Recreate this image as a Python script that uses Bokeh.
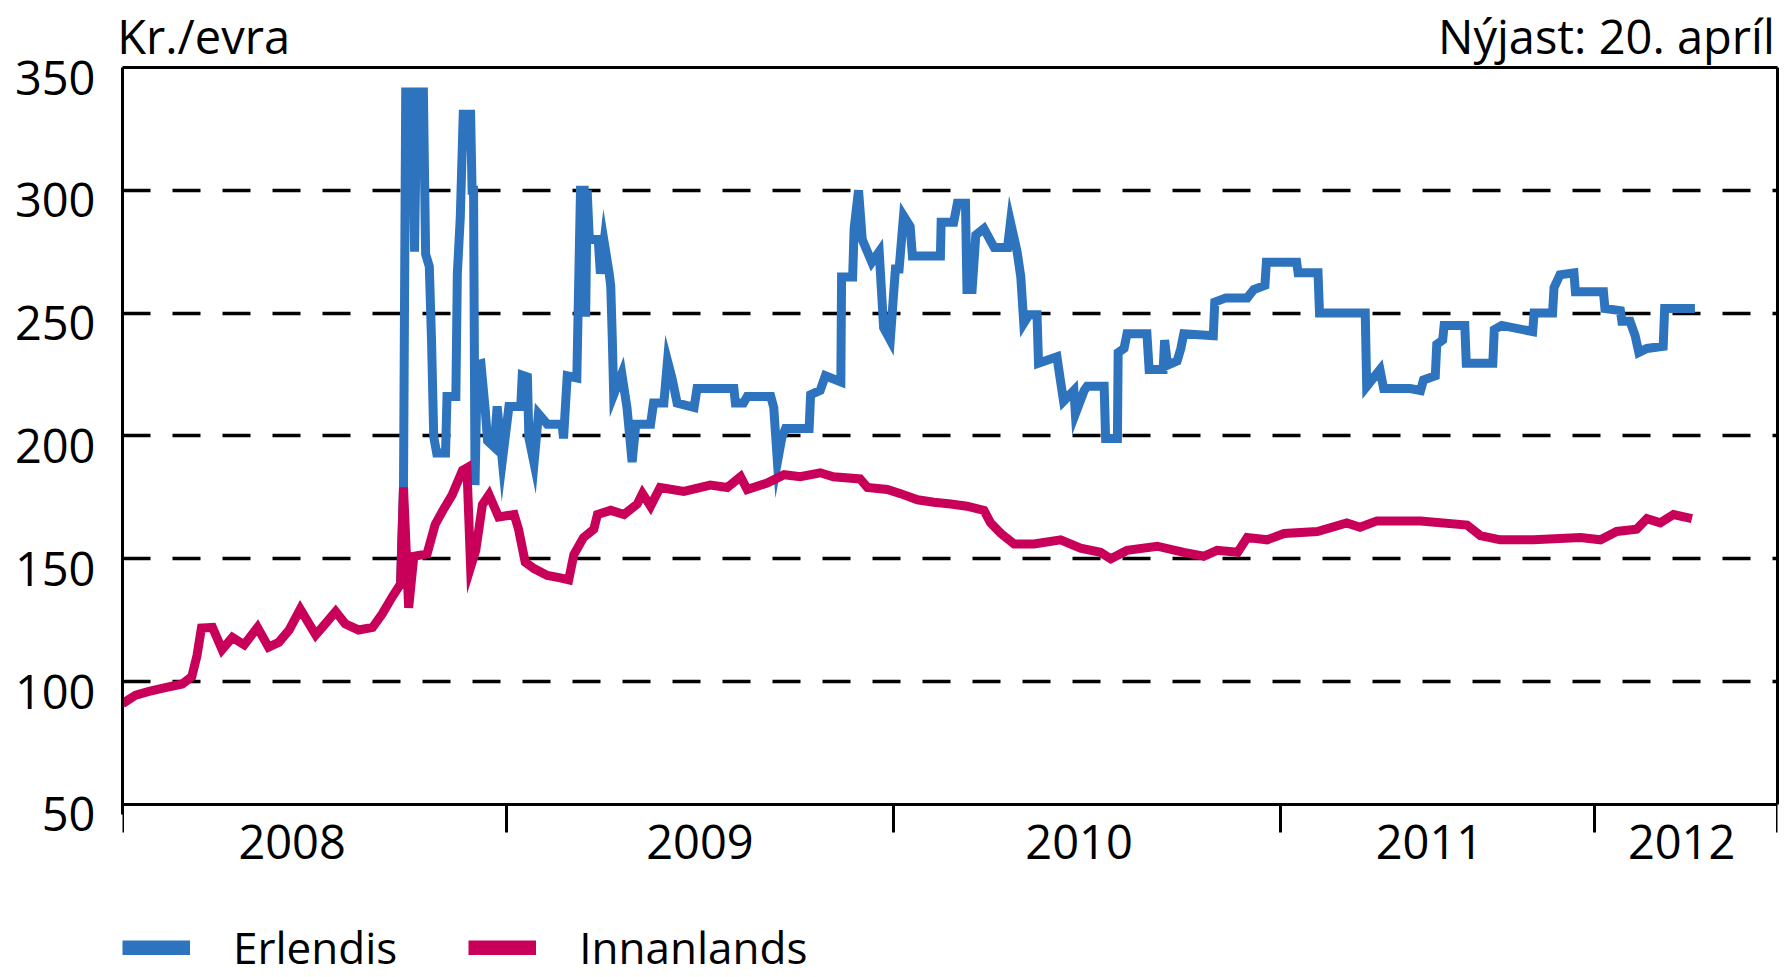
from bokeh.plotting import figure
from bokeh.models import Range1d, FixedTicker, Legend, LegendItem, LinearAxis
from bokeh.embed import file_html
from bokeh.resources import INLINE

FONT = "Open Sans"
BLUE = "#2E73BE"
RED = "#C8005A"
NAN = float("nan")

# x axis: observation index as laid out on the chart (weekly steps from start of 2008)
YEAR_STARTS = [0, 52, 104.5, 157, 199.6]
X_END = 224.4
YEAR_LABELS = ["2008", "2009", "2010", "2011", "2012"]
YEAR_LABEL_POS = [23, 78.3, 129.7, 177.2, 211.4]
Y_MIN, Y_MAX = 50, 350
Y_TICKS = [50, 100, 150, 200, 250, 300, 350]
GRID_TICKS = [100, 150, 200, 250, 300]
UNIT_TEXT = "Kr./evra"
LATEST_TEXT = "Nýjast: 20. apríl"
HEADER_POS = [11.0, 201.2]

# Innanlands (domestic), kr. per euro
inn_x = [0, 1.8, 3.6, 5.8, 8.1, 9.4, 10.1, 10.7, 12.2, 13.5, 14.9, 16.5, 18.3, 19.8, 21.2,
         22.6, 24.1, 26.2, 27.5, 28.9, 30.2, 32, 33.9, 35.2, 36.6, 37.7, 38.1, 38.8, 39.5,
         41.3, 42.4, 43.6, 44.7, 46.1, 46.7, 47.2, 47.9, 48.8, 49.7, 51, 53.1, 53.7, 54.6,
         55.8, 57.6, 59.2, 60.5, 61.2, 62.5, 63.9, 64.4, 66.2, 68, 69.8, 70.5, 71.6, 72.9,
         76.1, 79.7, 82, 83.8, 84.7, 87.4, 89.7, 91.9, 94.6, 96.4, 100, 101, 103.7, 105.5,
         107.8, 110, 112.3, 114.5, 116.8, 117.7, 119.1, 120.9, 123.6, 127.2, 129.9, 132.6,
         134, 136.2, 140.3, 143.9, 146.6, 148.4, 151.2, 152.5, 155.2, 157.5, 162, 166,
         167.8, 170.1, 176, 182.3, 184.1, 186.8, 191.3, 197.7, 200.4, 202.6, 205.3, 206.7,
         208.5, 210.3, 212.8]
inn_y = [91, 94.5, 96, 97.5, 99, 102, 110.6, 121.8, 122, 113, 118, 115, 122, 114, 116,
         121, 129.5, 119, 123.5, 128.5, 123.5, 121, 122, 127.5, 134.6, 139.7, 179, 130, 151,
         152, 164, 170.5, 176, 186, 187, 146.6, 153.4, 172, 176, 167, 168, 162, 148.6,
         146, 143.2, 142.3, 141.4, 151.7, 158.6, 162, 168, 169.7, 168, 172.3, 176.5, 171.4, 179,
         177.4, 180, 179, 183.4, 178.2, 180.8, 184.2, 183.4, 185, 183.4, 182.5, 179, 178.2, 176.5,
         174, 173, 172.3, 171.4, 169.7, 164.6, 160.3, 156, 156, 157.7, 154.3, 152.6,
         150, 153.4, 155.1, 152.6, 151, 153.4, 152.6, 158.6, 157.7, 160.3, 161.1, 164.6,
         162.8, 165.4, 165.4, 163.7, 159.4, 157.7, 157.7, 158.6, 157.7, 161.1, 162, 166.3,
         164.6, 168, 166.3]

# Erlendis (offshore), kr. per euro
erl_x = [37.7, 38.1, 38.4, 39.3, 39.6, 39.9, 40.8, 41.1, 41.6, 41.9, 42.2, 42.6, 43.8, 44,
         45.2, 45.4, 45.8, 46.2, 47.2, 47.4, 47.6, 47.8, 48.1, 48.6, 49.2, 49.5, 50.4, 50.8,
         51.5, 52.4, 54, 54.2, 54.9, 55.1, 55.8, 56.4, 57.6, 59.6, 59.8, 60.3, 61.6, 62.1,
         62.6, 62.8, 63, 63.3, 64.5, 64.8, 65.3, 66, 66.2, 66.4, 66.6, 67.7, 68.4, 69.1,
         69.6, 71.6, 72, 73.4, 73.9, 74.5, 75.2, 77.5, 77.9, 82.9, 83.1, 84.2, 84.7, 87.9,
         88.3, 88.8, 89.4, 89.9, 93.1, 93.3, 94.6, 95.3, 97.4, 97.5, 99, 99.2, 99.8, 100.3,
         101, 101.6, 102.6, 103.2, 104.1, 104.8, 105.3, 105.9, 106.8, 107.1, 110.9, 111,
         112.7, 113.2, 114.3, 114.5, 115.2, 115.7, 116.8, 118.2, 120, 120.4, 121.3, 121.8,
         122.2, 122.9, 124, 124.2, 126.7, 127.2, 127.6, 129, 129.2, 130.4, 130.8, 133.1,
         133.3, 134.9, 135, 135.8, 136.2, 138.9, 139.2, 141.1, 141.3, 141.7, 143, 143.5,
         143.9, 147.9, 148.1, 149.6, 152.5, 153.4, 154.9, 155.1, 159.2, 159.4, 162.1, 162.3,
         168.5, 168.7, 170.5, 171, 174.6, 176, 176.4, 178, 178.2, 179, 179.2, 182, 182.2,
         185.8, 186, 187, 191.2, 191.4, 193.9, 194.1, 194.9, 196.8, 197, 200.8, 201, 203.1,
         203.3, 204.4, 205.1, 205.6, 206.7, 208.9, 209.1, 213.2]
erl_y = [139.7, 179, 340, 340, 275, 340, 340, 274, 269, 239, 199.6, 193, 193, 216,
         216, 266, 289, 331, 331, 300, 300, 180, 229, 229.4, 210, 198, 195.5, 212,
         190, 212, 212, 224.7, 224, 199.3, 189, 209, 204.8, 204.8, 199, 224.5, 223.6, 300,
         300, 248.5, 300, 280, 280, 266, 279, 266, 261, 240.8, 216.8, 225.3, 211.6, 189.4,
         204.8, 204.8, 213.4, 213.4, 230.5, 223.6, 213.4, 211.6, 219.3, 219.3, 213.4, 213.4, 216, 216,
         211.6, 189.4, 199.3, 203, 203, 216.8, 218.5, 224.5, 222, 264.7, 264.7, 284.4, 300, 280,
         275, 270.7, 275, 244, 239, 268, 268, 289.6, 285.3, 273.3, 273.3, 287,
         287, 294.7, 294.7, 259.6, 259.6, 281.8, 284.4, 276.7, 276.7, 287, 275, 264.7,
         245.9, 249.3, 249.3, 229.6, 232.2, 222, 214.2, 218.5, 209, 218.5, 220.2, 220.2,
         199, 199, 233.9, 235.6, 241.6, 241.6, 227, 227, 239, 228.8, 230.5, 235.6,
         241.6, 240.8, 254.5, 256.2, 256.2, 259.6, 261.3, 270.7, 270.7, 266.4, 266.4, 250,
         250, 220.2, 227, 219.3, 219.3, 218.5, 222.8, 224.5, 237.3, 239, 245, 245, 229.6,
         229.6, 243.3, 245, 242.5, 250, 250, 260.4, 265.6, 266.4, 258.7, 258.7, 251.9, 251,
         246.7, 246.7, 240.8, 234, 235.6, 236.5, 251.9, 251.9]

SERIES_NAMES = ["Erlendis", "Innanlands"]

# The frame runs down to the page bottom so that axis labels and legend sit inside it;
# the value axis box (50-350) is drawn with axis lines.
Y_START = -20.5          # extra room under the 50 line for year labels and legend
LABEL_SHIFT = 4.08       # value-axis labels sit slightly below their grid lines

p = figure(width=1789, height=977, x_range=Range1d(0, X_END), y_range=Range1d(Y_START, Y_MAX),
           output_backend="svg", toolbar_location=None, title=None,
           min_border_left=122, min_border_right=12, min_border_top=67, min_border_bottom=0)
p.background_fill_color = "white"
p.border_fill_color = "white"
p.outline_line_color = None
p.extra_y_ranges = {"lab": Range1d(Y_START + LABEL_SHIFT, Y_MAX + LABEL_SHIFT)}

p.line(erl_x, erl_y, line_width=9, color=BLUE, line_join="miter")
p.line(inn_x, inn_y, line_width=9, color=RED, line_join="miter")

# x axis (years between boundary ticks), sitting on the 50 line
xa = p.xaxis[0]
xa.fixed_location = Y_MIN
xa.ticker = FixedTicker(ticks=YEAR_LABEL_POS, minor_ticks=YEAR_STARTS + [X_END])
xa.major_label_overrides = {pos: lab for pos, lab in zip(YEAR_LABEL_POS, YEAR_LABELS)}
xa.major_tick_out = 0
xa.major_tick_in = 0
xa.minor_tick_out = 28
xa.minor_tick_in = 0
xa.minor_tick_line_width = 3
xa.minor_tick_line_color = "black"
xa.axis_line_width = 3
xa.axis_line_color = "black"
xa.major_label_standoff = -7
xa.major_label_text_font = FONT
xa.major_label_text_font_size = "47px"
xa.major_label_text_color = "black"

# y axis (labels slightly below their lines, as in the original)
ya = p.yaxis[0]
ya.y_range_name = "lab"
ya.bounds = (Y_MIN, Y_MAX + LABEL_SHIFT)
ya.ticker = FixedTicker(ticks=Y_TICKS, minor_ticks=[])
ya.major_tick_out = 0
ya.major_tick_in = 0
ya.minor_tick_out = 0
ya.minor_tick_in = 0
ya.axis_line_width = 3
ya.axis_line_color = "black"
ya.major_label_standoff = 27
ya.major_label_text_font = FONT
ya.major_label_text_font_size = "47px"
ya.major_label_text_color = "black"

# right edge of the box
right = LinearAxis(ticker=FixedTicker(ticks=[], minor_ticks=[]), bounds=(Y_MIN, Y_MAX),
                   axis_line_width=3, axis_line_color="black",
                   major_tick_out=0, major_tick_in=0, minor_tick_out=0, minor_tick_in=0)
p.add_layout(right, "right")

p.xgrid.visible = False
p.ygrid.ticker = FixedTicker(ticks=GRID_TICKS)
p.ygrid.grid_line_color = "black"
p.ygrid.grid_line_width = 3.5
p.ygrid.grid_line_dash = "28 22"

# header texts (unit on the left, latest date on the right) on the top edge of the box
top = LinearAxis(ticker=FixedTicker(ticks=HEADER_POS, minor_ticks=[]),
                 major_label_overrides={HEADER_POS[0]: UNIT_TEXT, HEADER_POS[1]: LATEST_TEXT},
                 axis_line_width=3, axis_line_color="black",
                 major_tick_out=0, major_tick_in=0,
                 minor_tick_out=0, minor_tick_in=0, major_label_standoff=0,
                 major_label_text_font=FONT, major_label_text_font_size="47px",
                 major_label_text_color="black")
p.add_layout(top, "above")

# legend with thick swatches
lb = p.line([NAN], [NAN], line_width=15, color=BLUE)
lr = p.line([NAN], [NAN], line_width=15, color=RED)
legend = Legend(items=[LegendItem(label=SERIES_NAMES[0], renderers=[lb]),
                       LegendItem(label=SERIES_NAMES[1], renderers=[lr])],
                orientation="horizontal", location=(0, 0),
                glyph_width=68, glyph_height=15, label_standoff=43, spacing=71,
                padding=0, margin=0, border_line_alpha=0, background_fill_alpha=0,
                label_text_font=FONT, label_text_font_size="44px", label_text_color="black",
                label_height=15)
p.add_layout(legend, "center")

open("out.html", "w").write(file_html(p, INLINE))
